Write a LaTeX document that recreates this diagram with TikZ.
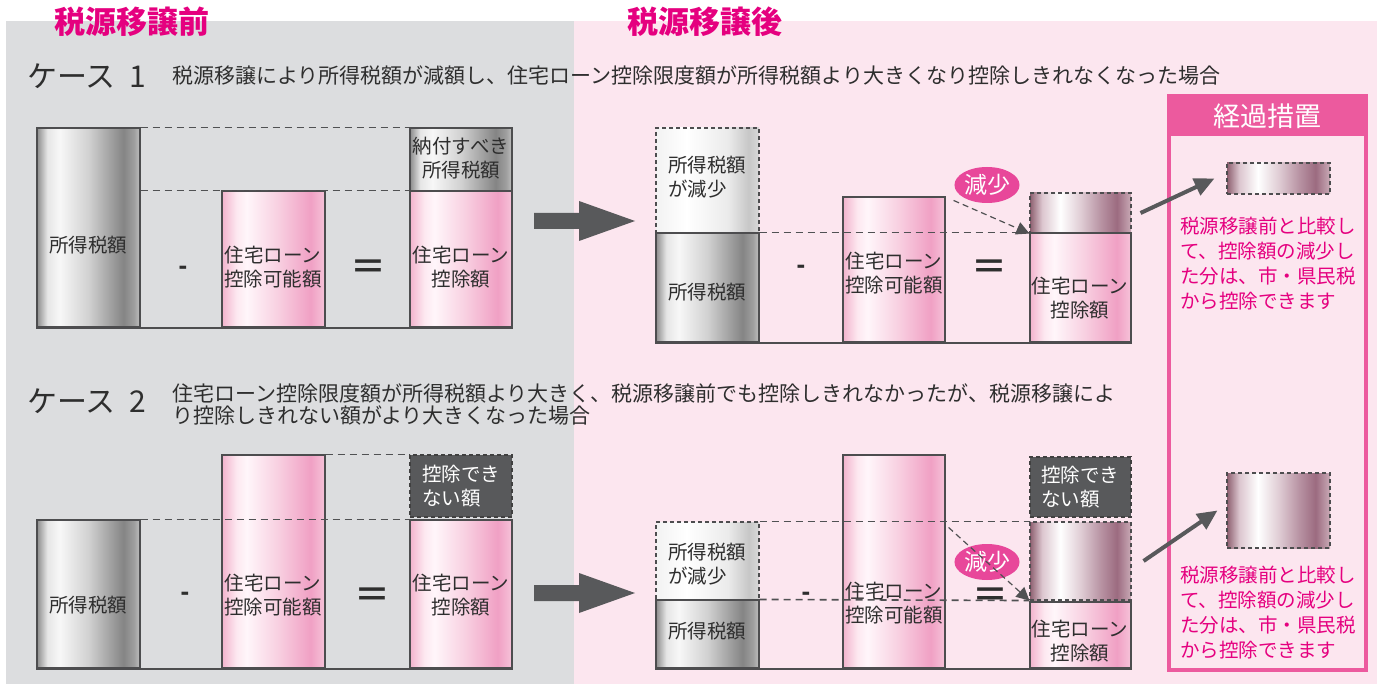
\documentclass[tikz,border=0pt]{standalone}
\usepackage{fontspec}
\usepackage{graphicx}
\setmainfont{Noto Sans CJK JP}
\newfontfamily\symfont{Liberation Sans}
\usetikzlibrary{fit,calc,shapes.geometric,arrows.meta}

\definecolor{panelgray}{HTML}{DCDDDF}
\definecolor{panelpink}{HTML}{FCE6EF}
\definecolor{magenta}{HTML}{E5007F}
\definecolor{headpink}{HTML}{EC5A9E}
\definecolor{pillc}{HTML}{E8479A}
\definecolor{dark}{HTML}{58595B}
\definecolor{edge}{HTML}{4D4D4F}
\definecolor{guidec}{HTML}{505153}
\definecolor{ink}{HTML}{2E2E2E}

% metal-like fills (25bp..75bp = left..right edge)
\pgfdeclarehorizontalshading{metal}{100bp}{color(0bp)=(black!45);color(25bp)=(black!45);color(30bp)=(black!10);color(36bp)=(black!3);color(50bp)=(black!18);color(67bp)=(black!48);color(72bp)=(black!38);color(75bp)=(black!25);color(100bp)=(black!25)}
\pgfdeclarehorizontalshading{pale}{100bp}{color(0bp)=(black!5);color(25bp)=(black!5);color(40bp)=(white);color(60bp)=(black!8);color(70bp)=(black!22);color(75bp)=(black!15);color(100bp)=(black!15)}
\pgfdeclarehorizontalshading{rosy}{100bp}{color(0bp)=(rgb,255:red,242;green,179;blue,205);color(25bp)=(rgb,255:red,242;green,179;blue,205);color(32bp)=(rgb,255:red,253;green,232;blue,240);color(37bp)=(rgb,255:red,255;green,246;blue,250);color(52bp)=(rgb,255:red,248;green,208;blue,225);color(68bp)=(rgb,255:red,240;green,160;blue,196);color(75bp)=(rgb,255:red,246;green,195;blue,217);color(100bp)=(rgb,255:red,246;green,195;blue,217)}
\pgfdeclarehorizontalshading{mauve}{100bp}{color(0bp)=(rgb,255:red,142;green,96;blue,112);color(25bp)=(rgb,255:red,142;green,96;blue,112);color(31bp)=(rgb,255:red,220;green,198;blue,207);color(40bp)=(white);color(50bp)=(rgb,255:red,224;green,205;blue,213);color(60bp)=(rgb,255:red,184;green,147;blue,163);color(68bp)=(rgb,255:red,156;green,107;blue,128);color(75bp)=(rgb,255:red,201;green,170;blue,182);color(100bp)=(rgb,255:red,201;green,170;blue,182)}

\begin{document}
\begin{tikzpicture}[x=1pt,y=-1pt,
    bar/.style={draw=edge,line width=1.1pt,inner sep=0pt},
    graybar/.style={bar,shade,shading=metal},
    pinkbar/.style={bar,shade,shading=rosy},
    lightbox/.style={bar,shade,shading=pale,dash pattern=on 4pt off 3pt},
    mauvebox/.style={bar,shade,shading=mauve,dash pattern=on 4pt off 3pt},
    darkbox/.style={bar,fill=dark,draw=black!75,dash pattern=on 4pt off 3pt},
    lbl/.style={font=\fontsize{19.5}{24}\selectfont,text=ink,align=center,inner sep=0pt},
    lbll/.style={lbl,align=left},
    wlbl/.style={lbll,text=white},
    pinktext/.style={lbll,text=magenta,font=\fontsize{19.5}{25}\selectfont},
    title/.style={text=magenta,inner sep=0pt,font=\bfseries\fontsize{31}{31}\selectfont},
    casehead/.style={text=ink,inner sep=0pt,anchor=west,font=\fontsize{30}{30}\selectfont},
    desc/.style={text=ink,inner sep=0pt,anchor=west,align=left,font=\fontsize{21}{22}\selectfont},
    guide/.style={draw=guidec,line width=1.6pt,dash pattern=on 7pt off 5pt},
    base/.style={draw=edge,line width=2pt},
    pill/.style={ellipse,fill=pillc,text=white,minimum width=58,minimum height=36,inner sep=0pt,font=\fontsize{23}{23}\selectfont},
    drop/.style={draw=guidec,line width=1.2pt,dash pattern=on 6pt off 4pt,-{Triangle[length=13pt,width=13pt]}},
    push/.style={draw=dark,line width=4pt,-{Triangle[length=20pt,width=18pt]}},
    minus/.style={text=ink,inner sep=0pt,font=\symfont\bfseries\fontsize{26}{26}\selectfont},
    equal/.style={text=ink,inner sep=0pt,font=\symfont\bfseries\fontsize{32}{32}\selectfont}]

  \useasboundingbox (0,0) rectangle (1391,684);
  \fill[panelgray] (6,21) rectangle (574,684);
  \fill[panelpink] (574,21) rectangle (1377,684);

  \node[title] (hb) at (132,22) {税源移譲前};
  \node[title] (ha) at (705,22) {税源移譲後};

  \node[casehead] (c1) at (27,76) {ケース\hspace{14pt}1};
  \node[desc] (t1) at (172,76) {税源移譲により所得税額が減額し、住宅ローン控除限度額が所得税額より大きくなり控除しきれなくなった場合};
  \node[casehead] (c2) at (27,401) {ケース\hspace{14pt}2};
  \node[desc] (t2) at (172,404) {住宅ローン控除限度額が所得税額より大きく、税源移譲前でも控除しきれなかったが、税源移譲によ\\り控除しきれない額がより大きくなった場合};

  % case 1, before
  \node[graybar,fit={(37,128) (140,327)}] (a1) {};
  \node[pinkbar,fit={(222,191) (325,327)}] (p1) {};
  \node[graybar,fit={(410,128) (512,191)}] (n1) {};
  \node[pinkbar,fit={(410,191) (512,327)}] (k1) {};
  \draw[guide] (a1.north east) -- (n1.north west);
  \draw[guide] (a1.east |- p1.north) -- (k1.north west);
  \draw[base] (a1.south west) -- (k1.south east);
  \node[lbl] (la1) at (88,245) {所得税額};
  \node[lbl] (lp1) at (273,267) {住宅ローン\\控除可能額};
  \node[lbl] (ln1) at (461,158) {納付すべき\\所得税額};
  \node[lbl] (lk1) at (461,267) {住宅ローン\\控除額};
  \node[minus] (m1) at (183,270) {-};
  \node[equal] (e1) at (368,268) {\scalebox{1.6}[1]{=}};

  % case 1, after
  \node[lightbox,fit={(656,128) (759,233)}] (d1) {};
  \node[graybar,fit={(656,233) (759,342)}] (b1) {};
  \node[pinkbar,fit={(843,197) (945,342)}] (q1) {};
  \node[mauvebox,fit={(1030,193) (1131,233)}] (r1) {};
  \node[pinkbar,fit={(1030,233) (1131,342)}] (k2) {};
  \draw[guide] (b1.north east) -- (k2.north west);
  \draw[base] (b1.south west) -- (k2.south east);
  \node[lbll] (ld1) at (707,177) {所得税額\\が減少};
  \node[lbl] (lb1) at (707,292) {所得税額};
  \node[lbl] (lq1) at (894,273) {住宅ローン\\控除可能額};
  \node[lbl] (lk2) at (1080,298) {住宅ローン\\控除額};
  \node[minus] (m2) at (801,269) {-};
  \node[equal] (e2) at (989,268) {\scalebox{1.6}[1]{=}};
  \node[pill] (g1) at (987,185) {減少};
  \draw[drop] ($(q1.north east)+(8,4)$) -- (r1.south west);

  % case 2, before
  \node[graybar,fit={(37,520) (140,668)}] (a2) {};
  \node[pinkbar,fit={(222,455) (325,668)}] (p2) {};
  \node[darkbox,fit={(410,455) (512,517)}] (n2) {};
  \node[pinkbar,fit={(410,520) (512,668)}] (k3) {};
  \draw[guide] (p2.north east) -- (n2.north west);
  \draw[guide] (a2.north east) -- (k3.north west);
  \draw[base] (a2.south west) -- (k3.south east);
  \node[lbl] (la2) at (88,605) {所得税額};
  \node[lbl] (lp2) at (273,595) {住宅ローン\\控除可能額};
  \node[wlbl] (ln2) at (461,486) {控除でき\\ない額};
  \node[lbl] (lk3) at (461,595) {住宅ローン\\控除額};
  \node[minus] (m3) at (185,596) {-};
  \node[equal] (e3) at (372,596) {\scalebox{1.6}[1]{=}};

  % case 2, after
  \node[lightbox,fit={(656,522) (759,600)}] (d2) {};
  \node[graybar,fit={(656,600) (759,668)}] (b2) {};
  \node[pinkbar,fit={(843,455) (945,668)}] (q2) {};
  \node[darkbox,fit={(1030,457) (1131,517)}] (n3) {};
  \node[mauvebox,fit={(1030,522) (1131,600)}] (r2) {};
  \node[pinkbar,fit={(1030,602) (1131,668)}] (k4) {};
  \draw[guide] (d2.north east) -- (r2.north west);
  \draw[guide] (b2.north east) -- (r2.south west);
  \draw[base] (b2.south west) -- (k4.south east);
  \node[lbll] (ld2) at (707,564) {所得税額\\が減少};
  \node[lbl] (lb2) at (707,631) {所得税額};
  \node[lbl] (lq2) at (894,603) {住宅ローン\\控除可能額};
  \node[wlbl] (ln3) at (1080,487) {控除でき\\ない額};
  \node[lbl] (lk4) at (1080,641) {住宅ローン\\控除額};
  \node[minus] (m4) at (806,596) {-};
  \node[equal] (e4) at (990,596) {\scalebox{1.6}[1]{=}};
  \node[pill] (g2) at (987,562) {減少};
  \draw[drop] ($(q2.east |- d2.north)+(3,6)$) -- (r2.south west);

  % big arrows between panels
  \foreach \y in {221,593}
    \fill[dark] (534,\y-8) -- (579,\y-8) -- (579,\y-20) -- (635,\y) -- (579,\y+20) -- (579,\y+8) -- (534,\y+8) -- cycle;

  % transitional measure
  \node[draw=headpink,line width=3.5pt,inner sep=0pt,fit={(1169,96) (1366,670)}] (box) {};
  \node[fill=headpink,inner sep=0pt,fit={(1169,96) (1366,136)}] (head) {};
  \node[text=white,inner sep=0pt,font=\fontsize{27}{27}\selectfont] (lh) at (head.center) {経過措置};
  \node[mauvebox,fit={(1227,163) (1330,194)}] (s1) {};
  \node[mauvebox,fit={(1227,473) (1330,548)}] (s2) {};
  \node[pinktext] (x1) at (1268,264) {税源移譲前と比較し\\て、控除額の減少し\\た分は、市・県民税\\から控除できます};
  \node[pinktext] (x2) at (1268,613) {税源移譲前と比較し\\て、控除額の減少し\\た分は、市・県民税\\から控除できます};
  \draw[push] ([xshift=9pt]r1.east) -- ([xshift=-12pt]s1.west);
  \draw[push] ([xshift=12pt]r2.east) -- ([xshift=-9pt]s2.west);
\end{tikzpicture}
\end{document}
